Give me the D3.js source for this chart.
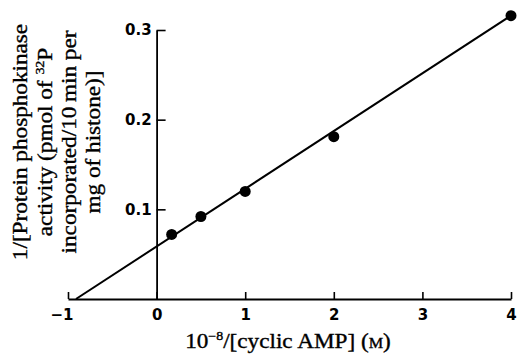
<!DOCTYPE html>
<html>
<head>
<meta charset="utf-8">
<script src="https://cdn.jsdelivr.net/npm/d3@7"></script>
<style>
  html, body { margin: 0; padding: 0; background: #fff; }
  svg { display: block; }
</style>
</head>
<body>
<script>
// ---- data ----
const pointX = [0.17, 0.5, 1, 2, 4];
const pointY = [0.072, 0.092, 0.12, 0.181, 0.316];
const fitX = [-0.91, 4];
const fitY = [0, 0.316];
const xTicks = [-1, 0, 1, 2, 3, 4];
const yTicks = [0.1, 0.2, 0.3];
const yLabelLines = ["1/[Protein phosphokinase", "activity (pmol of |32|P", "incorporated/10\u2009min per", "mg of histone)]"];

const W = 523, H = 354;
const svg = d3.select("body").append("svg").attr("width", W).attr("height", H);

const x = d3.scaleLinear().domain([-1, 4]).range([68, 511]);
const y = d3.scaleLinear().domain([0, 0.3]).range([299, 30]);

const tickFont = "'DejaVu Sans', sans-serif";
const serif = "'Liberation Serif', 'Times New Roman', serif";
const stretch = 1.16;

// x axis
const xAxis = svg.append("g")
  .attr("transform", `translate(0,${y(0)})`)
  .call(d3.axisBottom(x).tickValues(xTicks).tickSizeInner(-7).tickSizeOuter(0).tickPadding(10)
    .tickFormat(d => d < 0 ? "\u2212" + Math.abs(d) : d3.format("d")(d)));
xAxis.select(".domain").attr("stroke", "#000").attr("stroke-width", 1.8);
xAxis.selectAll(".tick line").attr("stroke", "#000").attr("stroke-width", 1.6);
xAxis.selectAll(".tick text")
  .attr("font-family", tickFont).attr("font-weight", "bold").attr("font-size", 15).attr("fill", "#000")
  .each(function(d) { if (d < 0) d3.select(this).attr("text-anchor", "end").attr("x", 5); });

// y axis at x = 0
const yAxis = svg.append("g")
  .attr("transform", `translate(${x(0)},0)`)
  .call(d3.axisLeft(y).tickValues(yTicks).tickSizeInner(-9).tickSizeOuter(0).tickPadding(5)
    .tickFormat(d3.format(".1f")));
yAxis.select(".domain").attr("stroke", "#000").attr("stroke-width", 1.8);
yAxis.selectAll(".tick line").attr("stroke", "#000").attr("stroke-width", 1.6);
yAxis.selectAll(".tick text")
  .attr("font-family", tickFont).attr("font-weight", "bold").attr("font-size", 15).attr("fill", "#000");

// fitted line
const fit = fitX.map((v, i) => [v, fitY[i]]);
svg.append("path")
  .datum(fit)
  .attr("d", d3.line().x(d => x(d[0])).y(d => y(d[1])))
  .attr("fill", "none").attr("stroke", "#000").attr("stroke-width", 2);

// points
svg.selectAll("circle.pt")
  .data(pointX.map((v, i) => [v, pointY[i]]))
  .join("circle")
  .attr("class", "pt")
  .attr("cx", d => x(d[0])).attr("cy", d => y(d[1])).attr("r", 5.5)
  .attr("fill", "#000");

// y label (rotated, multi-line)
const yBase = [27, 51.5, 76, 100];
yLabelLines.forEach((line, i) => {
  const t = svg.append("text")
    .attr("transform", `translate(${yBase[i]},142) rotate(-90) scale(${stretch},1)`)
    .attr("text-anchor", "middle")
    .attr("font-family", serif).attr("font-size", 20).attr("fill", "#000")
    .attr("stroke", "#000").attr("stroke-width", 0.35);
  const parts = line.split("|");
  if (parts.length === 1) {
    t.text(line);
  } else {
    t.append("tspan").text(parts[0]);
    t.append("tspan").attr("font-size", 12).attr("dy", -8).text(parts[1]);
    t.append("tspan").attr("dy", 8).text(parts[2]);
  }
});

// x label
const xl = svg.append("text")
  .attr("transform", `translate(288,348) scale(${stretch},1)`)
  .attr("text-anchor", "middle")
  .attr("font-family", serif).attr("font-size", 20).attr("fill", "#000")
  .attr("stroke", "#000").attr("stroke-width", 0.35);
xl.append("tspan").text("10");
xl.append("tspan").attr("font-size", 12).attr("dy", -8).text("\u22128");
xl.append("tspan").attr("dy", 8).text("/[cyclic AMP] (");
xl.append("tspan").attr("font-size", 14).text("M");
xl.append("tspan").text(")");
</script>
</body>
</html>
